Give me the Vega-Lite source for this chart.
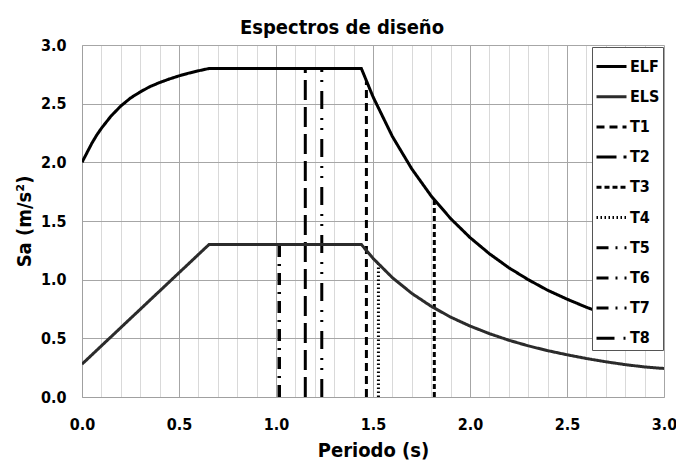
{
  "$schema": "https://vega.github.io/schema/vega-lite/v6.json",
  "width": 582,
  "height": 352,
  "autosize": "none",
  "padding": {"left": 82, "top": 45, "right": 12, "bottom": 65},
  "background": "white",
  "title": {
    "text": "Espectros de diseño",
    "fontSize": 20,
    "fontWeight": "bold",
    "font": "Liberation Sans Narrow, DejaVu Sans Condensed, sans-serif",
    "color": "#000000",
    "baseline": "bottom",
    "offset": 4,
    "dy": 25,
    "dx": -31
  },
  "config": {
    "view": {"stroke": null},
    "font": "Liberation Sans Narrow, DejaVu Sans Condensed, sans-serif"
  },
  "data": {
    "values": [
      {"serie": "T1", "T": 1.466, "Sa": 0},
      {"serie": "T1", "T": 1.466, "Sa": 2.69},
      {"serie": "T2", "T": 1.151, "Sa": 0},
      {"serie": "T2", "T": 1.151, "Sa": 2.8},
      {"serie": "T3", "T": 1.816, "Sa": 0},
      {"serie": "T3", "T": 1.816, "Sa": 1.68},
      {"serie": "T4", "T": 1.528, "Sa": 0},
      {"serie": "T4", "T": 1.528, "Sa": 1.14},
      {"serie": "T5", "T": 1.017, "Sa": 0},
      {"serie": "T5", "T": 1.017, "Sa": 1.3},
      {"serie": "T6", "T": 1.017, "Sa": 0},
      {"serie": "T6", "T": 1.017, "Sa": 1.3},
      {"serie": "T7", "T": 1.017, "Sa": 0},
      {"serie": "T7", "T": 1.017, "Sa": 1.3},
      {"serie": "T8", "T": 1.236, "Sa": 0},
      {"serie": "T8", "T": 1.236, "Sa": 2.8},
      {"serie": "ELS", "T": 0, "Sa": 0.28},
      {"serie": "ELS", "T": 0.655, "Sa": 1.3},
      {"serie": "ELS", "T": 1.44, "Sa": 1.3},
      {"serie": "ELS", "T": 1.5, "Sa": 1.182},
      {"serie": "ELS", "T": 1.6, "Sa": 1.017},
      {"serie": "ELS", "T": 1.7, "Sa": 0.883},
      {"serie": "ELS", "T": 1.8, "Sa": 0.773},
      {"serie": "ELS", "T": 1.9, "Sa": 0.681},
      {"serie": "ELS", "T": 2.0, "Sa": 0.605},
      {"serie": "ELS", "T": 2.1, "Sa": 0.54},
      {"serie": "ELS", "T": 2.2, "Sa": 0.484},
      {"serie": "ELS", "T": 2.3, "Sa": 0.436},
      {"serie": "ELS", "T": 2.4, "Sa": 0.395},
      {"serie": "ELS", "T": 2.5, "Sa": 0.36},
      {"serie": "ELS", "T": 2.6, "Sa": 0.328},
      {"serie": "ELS", "T": 2.7, "Sa": 0.3},
      {"serie": "ELS", "T": 2.8, "Sa": 0.276},
      {"serie": "ELS", "T": 2.9, "Sa": 0.256},
      {"serie": "ELS", "T": 3.0, "Sa": 0.243},
      {"serie": "ELF", "T": 0, "Sa": 2.0},
      {"serie": "ELF", "T": 0.025, "Sa": 2.08},
      {"serie": "ELF", "T": 0.05, "Sa": 2.16},
      {"serie": "ELF", "T": 0.075, "Sa": 2.23},
      {"serie": "ELF", "T": 0.1, "Sa": 2.29},
      {"serie": "ELF", "T": 0.15, "Sa": 2.395},
      {"serie": "ELF", "T": 0.2, "Sa": 2.48},
      {"serie": "ELF", "T": 0.25, "Sa": 2.548},
      {"serie": "ELF", "T": 0.3, "Sa": 2.6},
      {"serie": "ELF", "T": 0.35, "Sa": 2.645},
      {"serie": "ELF", "T": 0.4, "Sa": 2.68},
      {"serie": "ELF", "T": 0.45, "Sa": 2.71},
      {"serie": "ELF", "T": 0.5, "Sa": 2.737},
      {"serie": "ELF", "T": 0.55, "Sa": 2.76},
      {"serie": "ELF", "T": 0.6, "Sa": 2.78},
      {"serie": "ELF", "T": 0.655, "Sa": 2.8},
      {"serie": "ELF", "T": 1.44, "Sa": 2.8},
      {"serie": "ELF", "T": 1.5, "Sa": 2.559},
      {"serie": "ELF", "T": 1.6, "Sa": 2.22},
      {"serie": "ELF", "T": 1.7, "Sa": 1.944},
      {"serie": "ELF", "T": 1.8, "Sa": 1.713},
      {"serie": "ELF", "T": 1.9, "Sa": 1.521},
      {"serie": "ELF", "T": 2.0, "Sa": 1.359},
      {"serie": "ELF", "T": 2.1, "Sa": 1.221},
      {"serie": "ELF", "T": 2.2, "Sa": 1.102},
      {"serie": "ELF", "T": 2.3, "Sa": 1.0},
      {"serie": "ELF", "T": 2.4, "Sa": 0.91},
      {"serie": "ELF", "T": 2.5, "Sa": 0.834},
      {"serie": "ELF", "T": 2.6, "Sa": 0.765},
      {"serie": "ELF", "T": 2.7, "Sa": 0.704},
      {"serie": "ELF", "T": 2.8, "Sa": 0.651},
      {"serie": "ELF", "T": 2.9, "Sa": 0.605},
      {"serie": "ELF", "T": 3.0, "Sa": 0.566}
    ]
  },
  "mark": {"type": "line", "strokeCap": "butt", "clip": true},
  "encoding": {
    "x": {
      "field": "T",
      "type": "quantitative",
      "scale": {"domain": [0, 3], "nice": false, "zero": false},
      "axis": {
        "title": "Periodo (s)",
        "titleFontSize": 20,
        "titleFontWeight": "bold",
        "titleColor": "#000000",
        "titlePadding": 8,
        "values": [0, 0.1, 0.2, 0.3, 0.4, 0.5, 0.6, 0.7, 0.8, 0.9, 1.0, 1.1, 1.2, 1.3, 1.4, 1.5, 1.6, 1.7, 1.8, 1.9, 2.0, 2.1, 2.2, 2.3, 2.4, 2.5, 2.6, 2.7, 2.8, 2.9, 3.0],
        "labelExpr": "abs(datum.value*2 - round(datum.value*2)) < 0.001 ? format(datum.value, '.1f') : ''",
        "labelFontSize": 16,
        "labelFontWeight": "bold",
        "labelColor": "#000000",
        "labelPadding": 19,
        "labelOverlap": false,
        "labelFlush": false,
        "ticks": false,
        "grid": true,
        "gridColor": {"condition": {"test": "abs(datum.value*2 - round(datum.value*2)) < 0.001", "value": "#a6a6a6"}, "value": "#d9d9d9"},
        "gridWidth": 1,
        "domainColor": "#a0a0a0"
      }
    },
    "y": {
      "field": "Sa",
      "type": "quantitative",
      "scale": {"domain": [0, 3], "nice": false},
      "axis": {
        "title": "Sa (m/s²)",
        "titleFontSize": 20,
        "titleFontWeight": "bold",
        "titleColor": "#000000",
        "titlePadding": 6,
        "values": [0, 0.5, 1.0, 1.5, 2.0, 2.5, 3.0],
        "format": ".1f",
        "labelFontSize": 16,
        "labelFontWeight": "bold",
        "labelColor": "#000000",
        "labelPadding": 16,
        "ticks": false,
        "grid": true,
        "gridColor": "#a6a6a6",
        "domainColor": "#a0a0a0"
      }
    },
    "strokeDash": {
      "field": "serie",
      "type": "nominal",
      "scale": {
        "domain": ["ELF", "ELS", "T1", "T2", "T3", "T4", "T5", "T6", "T7", "T8"],
        "range": [[1, 0], [1, 0], [8, 5], [20, 7], [5, 3], [1.5, 2.5], [12, 7, 2, 7], [12, 7, 2, 7], [12, 7, 2, 7], [18, 9, 2, 8, 2, 9]]
      },
      "legend": {
        "title": null,
        "orient": "none",
        "legendX": 510,
        "legendY": 2,
        "symbolType": "stroke",
        "symbolSize": 900,
        "symbolStrokeWidth": 2.5,
        "labelFontSize": 16,
        "labelFontWeight": "bold",
        "labelColor": "#000000",
        "labelOffset": 2,
        "rowPadding": 5.2,
        "padding": 3,
        "fillColor": "white",
        "strokeColor": "#555555"
      }
    },
    "color": {
      "field": "serie",
      "type": "nominal",
      "scale": {
        "domain": ["ELF", "ELS", "T1", "T2", "T3", "T4", "T5", "T6", "T7", "T8"],
        "range": ["#000000", "#2b2b2b", "#000000", "#000000", "#000000", "#000000", "#000000", "#000000", "#000000", "#000000"]
      },
      "legend": {
        "title": null,
        "orient": "none",
        "legendX": 510,
        "legendY": 2,
        "symbolType": "stroke",
        "symbolSize": 900,
        "symbolStrokeWidth": 2.5,
        "labelFontSize": 16,
        "labelFontWeight": "bold",
        "labelColor": "#000000",
        "labelOffset": 2,
        "rowPadding": 5.2,
        "padding": 3,
        "fillColor": "white",
        "strokeColor": "#555555"
      }
    },
    "strokeWidth": {
      "field": "serie",
      "type": "nominal",
      "scale": {
        "domain": ["ELF", "ELS", "T1", "T2", "T3", "T4", "T5", "T6", "T7", "T8"],
        "range": [3, 3, 2.5, 3, 2.5, 2, 2.5, 2.5, 2.5, 2.5]
      },
      "legend": null
    }
  }
}
